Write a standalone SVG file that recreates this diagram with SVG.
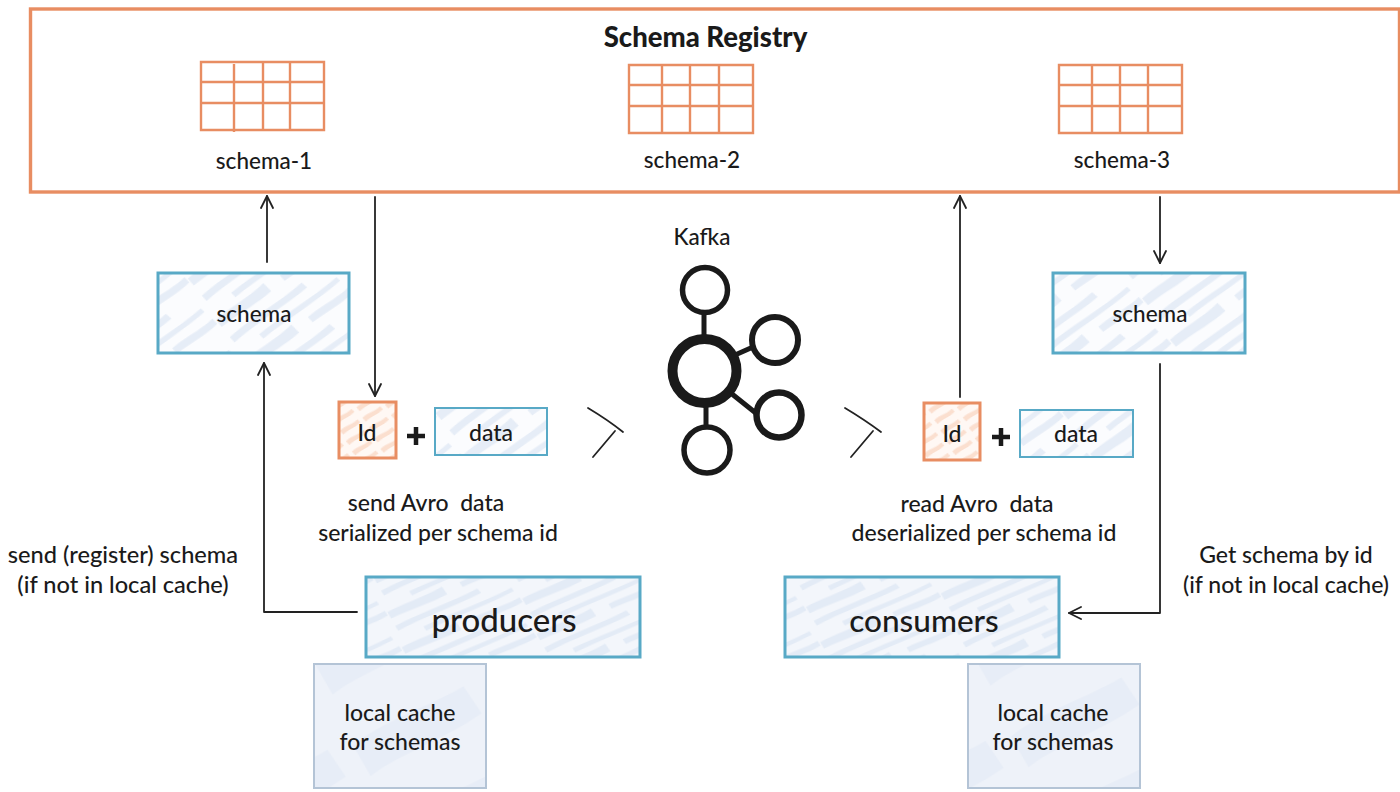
<svg xmlns="http://www.w3.org/2000/svg" width="1400" height="792" viewBox="0 0 1400 792">
<style>
text{font-family:"Lato","Noto Sans",sans-serif;fill:#1a1a1a;text-anchor:middle;white-space:pre;font-weight:500}
.t{font-size:23px}
.n{font-size:22.500px}
.o{fill:none;stroke:#e88d62}
.grid{fill:none;stroke:#e88d62;stroke-width:2.400}
.b{fill:url(#hb);stroke:#58a9c6}
.p{fill:url(#hp);stroke:#58a9c6;stroke-width:3}
.c{fill:url(#hc);stroke:#b4c4d6;stroke-width:2}
.k{fill:none;stroke:#1a1a1a}
.ln{fill:none;stroke:#222;stroke-width:1.800;stroke-linecap:round;stroke-linejoin:round}
</style>
<defs>
<g id="streaks">
<path d="M2 8C30 4 60 7 92 3L94 10C62 13 30 11 3 15Z"/>
<path d="M28 22C55 19 90 22 124 18L125 23C92 27 58 25 29 28Z"/>
<path d="M0 36C16 33 38 36 60 32L62 43C38 46 18 43 1 45Z"/>
<path d="M78 35C92 33 112 36 128 33L129 40C112 43 94 41 79 42Z"/>
</g>
<pattern id="hb" width="130" height="50" patternUnits="userSpaceOnUse" patternTransform="rotate(-34)">
<rect width="130" height="50" fill="#fbfcfe"/>
<use href="#streaks" fill="#e6edf7"/>
</pattern>
<pattern id="hp" width="130" height="38" patternUnits="userSpaceOnUse" patternTransform="rotate(-22)">
<rect width="130" height="38" fill="#f3f6fb"/>
<use href="#streaks" fill="#e3ebf6" transform="scale(1 .8)"/>
</pattern>
<pattern id="ho" width="26" height="12" patternUnits="userSpaceOnUse" patternTransform="rotate(-30)">
<rect width="26" height="12" fill="#fff8f4"/>
<path d="M1 3C8 1 14 4 22 2L23 6C14 8 8 6 2 8Z" fill="#fbdfcf"/>
</pattern>
<pattern id="hc" width="150" height="90" patternUnits="userSpaceOnUse" patternTransform="rotate(-25)">
<rect width="150" height="90" fill="#eef2f9"/>
<path d="M5 15C40 5 90 12 130 8L135 40C90 48 40 42 8 50Z" fill="#e7edf7"/>
</pattern>
<marker id="ar" markerWidth="16" markerHeight="14" refX="13" refY="7" orient="auto" markerUnits="userSpaceOnUse">
<path d="M1 1 L13 7 L1 13" fill="none" stroke="#222" stroke-width="1.800" stroke-linecap="round" stroke-linejoin="round"/>
</marker>
</defs>
<rect width="1400" height="792" fill="#fff"/>

<g id="registry">
<rect class="o" x="30.500" y="9" width="1369" height="183" stroke-width="3.400"/>
<text x="705.500" y="47" font-size="27.500" style="font-weight:900">Schema Registry</text>
</g>
<g id="schema-1">
<path class="grid" d="M201 62H324V130H201ZM201 82H324M201 103H325M234 64V132M263 62V130M290 62V130"/>
<text class="n" x="264" y="169">schema-1</text>
</g>
<g id="schema-2">
<path class="grid" d="M629 65H753V133H629ZM629 85H753M629 106H753M662 65V134M690 65V133M719 65V133"/>
<text class="n" x="692" y="168">schema-2</text>
</g>
<g id="schema-3">
<path class="grid" d="M1059 65H1182V133H1059ZM1059 85H1182M1059 106H1182M1092 65V134M1120 65V133M1148 65V133"/>
<text class="n" x="1122" y="168">schema-3</text>
</g>

<g id="connectors">
<path class="ln" marker-end="url(#ar)" d="M267 262V196"/>
<path class="ln" marker-end="url(#ar)" d="M375 197V396"/>
<path class="ln" marker-end="url(#ar)" d="M357 612H264V363"/>
<path class="ln" marker-end="url(#ar)" d="M960 397V196"/>
<path class="ln" marker-end="url(#ar)" d="M1160 197V263"/>
<path class="ln" marker-end="url(#ar)" d="M1160 364V613H1069"/>
<path class="ln" d="M588 408Q608 420 623 432M593 457L615 431"/>
<path class="ln" d="M845 408Q865 420 881 432M851 457L873 431"/>
</g>

<g id="schema-left">
<rect class="b" x="158" y="273" width="191" height="80" stroke-width="3"/>
<text class="n" x="254" y="322">schema</text>
</g>
<g id="schema-right">
<rect class="b" x="1053" y="273" width="192" height="80" stroke-width="3"/>
<text class="n" x="1150" y="322">schema</text>
</g>

<g id="id-left">
<rect x="339" y="402" width="57" height="56" fill="url(#ho)" stroke="#e88d62" stroke-width="3"/>
<text class="t" x="367" y="441">Id</text>
</g>
<path id="plus-left" d="M416 427V445M407 436H425" fill="none" stroke="#1a1a1a" stroke-width="4.500"/>
<g id="data-left">
<rect class="b" x="435" y="408" width="112" height="47" stroke-width="2"/>
<text class="t" x="491" y="441">data</text>
</g>

<g id="id-right">
<rect x="924" y="403" width="56" height="57" fill="url(#ho)" stroke="#e88d62" stroke-width="3"/>
<text class="t" x="952" y="442">Id</text>
</g>
<path id="plus-right" d="M1001 428V446M992 437H1010" fill="none" stroke="#1a1a1a" stroke-width="4.500"/>
<g id="data-right">
<rect class="b" x="1020" y="410" width="113" height="47" stroke-width="2"/>
<text class="t" x="1076" y="442">data</text>
</g>

<g id="kafka">
<text class="n" x="702" y="245">Kafka</text>
<circle class="k" cx="705" cy="290" r="22.500" stroke-width="5.500"/>
<circle class="k" cx="704.500" cy="371" r="32" stroke-width="10"/>
<circle class="k" cx="775" cy="340" r="23" stroke-width="6"/>
<circle class="k" cx="779" cy="415" r="22.500" stroke-width="6.500"/>
<circle class="k" cx="707" cy="450" r="23" stroke-width="5.500"/>
<path class="k" stroke-width="5" d="M704 314V338M735 355L753 347M732 394L757 414M706 404V425"/>
</g>

<g id="send-label">
<text class="t" x="426" y="511">send Avro  data</text>
<text class="t" x="438" y="541">serialized per schema id</text>
</g>
<g id="read-label">
<text class="t" x="977" y="512">read Avro  data</text>
<text class="t" x="984" y="541">deserialized per schema id</text>
</g>
<g id="left-label">
<text x="123" y="563" font-size="23.600">send (register) schema</text>
<text x="123" y="593" font-size="23.600">(if not in local cache)</text>
</g>
<g id="right-label">
<text class="t" x="1286" y="563">Get schema by id</text>
<text class="t" x="1286" y="593">(if not in local cache)</text>
</g>

<g id="producers">
<rect class="p" x="366" y="577" width="274" height="80"/>
<text x="504" y="632" font-size="33">producers</text>
</g>
<g id="consumers">
<rect class="p" x="785" y="577" width="274" height="80"/>
<text x="924" y="632" font-size="31.500">consumers</text>
</g>
<g id="cache-left">
<rect class="c" x="314" y="664" width="172" height="124"/>
<text class="t" x="400" y="721">local cache</text>
<text class="t" x="400" y="750">for schemas</text>
</g>
<g id="cache-right">
<rect class="c" x="968" y="664" width="172" height="124"/>
<text class="t" x="1053" y="721">local cache</text>
<text class="t" x="1053" y="750">for schemas</text>
</g>
</svg>
